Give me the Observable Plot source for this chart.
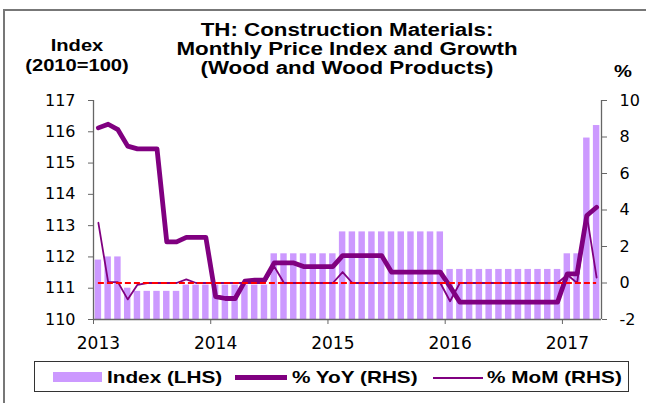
<!DOCTYPE html>
<html><head><meta charset="utf-8">
<script src="https://cdn.jsdelivr.net/npm/d3@7"></script>
<script src="https://cdn.jsdelivr.net/npm/@observablehq/plot@0.6"></script>
<style>
html,body{margin:0;padding:0;background:#fff;overflow:hidden}
#wrap{position:relative;width:646px;height:403px;overflow:hidden;background:#fff;font-family:"Liberation Sans",Arial,sans-serif;color:#000}
#frame{position:absolute;left:3px;top:9px;width:700px;height:500px;border-left:2px solid #777;border-top:2px solid #777}
#chart{position:absolute;left:0;top:0}
.b{position:absolute;font-weight:bold;white-space:nowrap}
.line{display:block;transform:scaleX(1.24);transform-origin:center}
#title{left:0;width:694px;top:21px;text-align:center;font-size:18px;line-height:19px}
#ylab{left:-23px;width:200px;top:35px;text-align:center;font-size:16.5px;line-height:20px}
#pct{left:523px;width:200px;top:61px;text-align:center;font-size:16.5px;line-height:20px}
#ylab .line,#pct .line{transform:scaleX(1.22)}
#legend{position:absolute;left:34px;top:361px;width:595px;height:31px;box-sizing:border-box;border:1px solid #333;background:#fff}
.sw{position:absolute}
.lt{position:absolute;font-weight:bold;font-size:17px;line-height:20px;white-space:nowrap;transform:scaleX(1.22);transform-origin:left center}
</style></head>
<body>
<div id="wrap">
  <div id="frame"></div>
  <div id="chart"></div>
  <div id="title" class="b"></div>
  <div id="ylab" class="b"></div>
  <div id="pct" class="b"></div>
  <div id="legend"></div>
</div>
<script>
// ---- data ----
const titleLines = ["TH: Construction Materials:", "Monthly Price Index and Growth", "(Wood and Wood Products)"];
const leftTitle = ["Index", "(2010=100)"];
const rightTitle = ["%"];
const seriesNames = ["Index (LHS)", "% YoY (RHS)", "% MoM (RHS)"];
const startYear = 2013;
const yearLabels = ["2013", "2014", "2015", "2016", "2017"];
const leftTicks = [110, 111, 112, 113, 114, 115, 116, 117];
const rightTicks = [-2, 0, 2, 4, 6, 8, 10];
// monthly, Jan 2013 .. Apr 2017
const indexValues = [
  111.9, 112.0, 112.0, 111.0, 110.9, 110.9, 110.9, 110.9, 110.9, 111.1, 111.1, 111.1,
  111.1, 111.1, 111.1, 111.1, 111.1, 111.1, 112.1, 112.1, 112.1, 112.1, 112.1, 112.1,
  112.1, 112.8, 112.8, 112.8, 112.8, 112.8, 112.8, 112.8, 112.8, 112.8, 112.8, 112.8,
  111.6, 111.6, 111.6, 111.6, 111.6, 111.6, 111.6, 111.6, 111.6, 111.6, 111.6, 111.6,
  112.1, 112.1, 115.8, 116.2
];
const yoyValues = [
  8.5, 8.7, 8.4, 7.5, 7.35, 7.35, 7.35, 2.25, 2.25, 2.5, 2.5, 2.5,
  -0.75, -0.85, -0.85, 0.1, 0.15, 0.15, 1.1, 1.1, 1.1, 0.9, 0.9, 0.9,
  0.9, 1.5, 1.5, 1.5, 1.5, 1.5, 0.6, 0.6, 0.6, 0.6, 0.6, 0.6,
  -0.2, -1.05, -1.05, -1.05, -1.05, -1.05, -1.05, -1.05, -1.05, -1.05, -1.05, -1.05,
  0.5, 0.5, 3.7, 4.15
];
const momValues = [
  3.3, 0.05, 0.05, -0.9, -0.1, 0, 0, 0, 0, 0.2, 0, 0,
  0, 0, 0, 0, 0, 0, 0.9, 0, 0, 0, 0, 0,
  0, 0.6, 0, 0, 0, 0, 0, 0, 0, 0, 0, 0,
  -1.0, 0, 0, 0, 0, 0, 0, 0, 0, 0, 0, 0,
  0.45, 0, 3.7, 0.3
];
const zeroLine = [0];

// ---- colours ----
const barColor = "#cc99ff", lineColor = "#800080", refColor = "#ff0000", axisColor = "#666";

// ---- build ----
const n = indexValues.length;
const rows = indexValues.map((v, i) => ({i, index: v, yoy: yoyValues[i], mom: momValues[i]}));
const lMin = leftTicks[0], lMax = leftTicks[leftTicks.length - 1];
const rMin = rightTicks[0], rMax = rightTicks[rightTicks.length - 1];
const toLeft = v => lMin + (v - rMin) * (lMax - lMin) / (rMax - rMin);
const fromLeft = y => rMin + (y - lMin) * (rMax - rMin) / (lMax - lMin);
const yearStarts = yearLabels.map((y, k) => (+y - startYear) * 12);

const chart = Plot.plot({
  width: 646, height: 403,
  marginLeft: 93, marginRight: 45, marginTop: 100, marginBottom: 84,
  x: {type: "linear", domain: [-0.5, n - 0.5]},
  y: {domain: [lMin, lMax]},
  style: {fontFamily: "'DejaVu Sans', sans-serif", fontSize: "16px", background: "transparent", color: "#000", overflow: "visible"},
  marks: [
    Plot.rectY(rows, {x1: d => d.i - 0.33, x2: d => d.i + 0.33, y1: lMin, y2: "index", fill: barColor}),
    Plot.lineY(rows, {x: "i", y: d => toLeft(d.mom), stroke: lineColor, strokeWidth: 1.8, strokeLinejoin: "round"}),
    Plot.lineY(rows, {x: "i", y: d => toLeft(d.yoy), stroke: lineColor, strokeWidth: 4.8, strokeLinejoin: "round", strokeLinecap: "round"}),
    Plot.ruleY(zeroLine, {y: d => toLeft(d), x1: 0, x2: n - 1, stroke: refColor, strokeWidth: 2.2, strokeDasharray: "6,3"}),
    Plot.ruleX([-0.5, n - 0.5], {stroke: axisColor, strokeWidth: 1.3}),
    Plot.ruleY([lMin], {stroke: axisColor, strokeWidth: 1.3}),
    Plot.axisY(leftTicks, {anchor: "left", tickSize: 5, tickPadding: 13, stroke: axisColor, fill: "#000", label: null, fontSize: 16}),
    Plot.axisY(rightTicks.map(toLeft), {anchor: "right", tickSize: 5, tickPadding: 13, stroke: axisColor, fill: "#000", label: null, fontSize: 16,
      tickFormat: d => String(Math.round(fromLeft(d)))}),
    Plot.axisX(yearStarts.map(i => i - 0.5), {anchor: "bottom", tickSize: 5, tickFormat: () => "", stroke: axisColor, label: null}),
    Plot.axisX(yearStarts, {anchor: "bottom", tickSize: 0, tickPadding: 17, fill: "#000", label: null, fontSize: 17,
      tickFormat: i => yearLabels[yearStarts.indexOf(i)]})
  ]
});
document.getElementById("chart").appendChild(chart);

function fillLines(id, lines) {
  const el = document.getElementById(id);
  for (const t of lines) {
    const s = document.createElement("span");
    s.className = "line"; s.textContent = t; el.appendChild(s);
  }
}
fillLines("title", titleLines);
fillLines("ylab", leftTitle);
fillLines("pct", rightTitle);

// legend (positions relative to legend box)
const lg = document.getElementById("legend");
const items = [
  {sw: {left: 18, top: 10, width: 49, height: 10, background: barColor}, tx: 72},
  {sw: {left: 200, top: 13.3, width: 52, height: 4.8, background: lineColor}, tx: 257},
  {sw: {left: 398, top: 14.8, width: 50, height: 1.8, background: lineColor}, tx: 452}
];
items.forEach((it, k) => {
  const s = document.createElement("div"); s.className = "sw";
  for (const [key, v] of Object.entries(it.sw)) s.style[key] = typeof v === "number" ? v + "px" : v;
  lg.appendChild(s);
  const t = document.createElement("div"); t.className = "lt";
  t.style.left = it.tx + "px"; t.style.top = "5.5px"; t.textContent = seriesNames[k];
  lg.appendChild(t);
});
</script>
</body></html>
